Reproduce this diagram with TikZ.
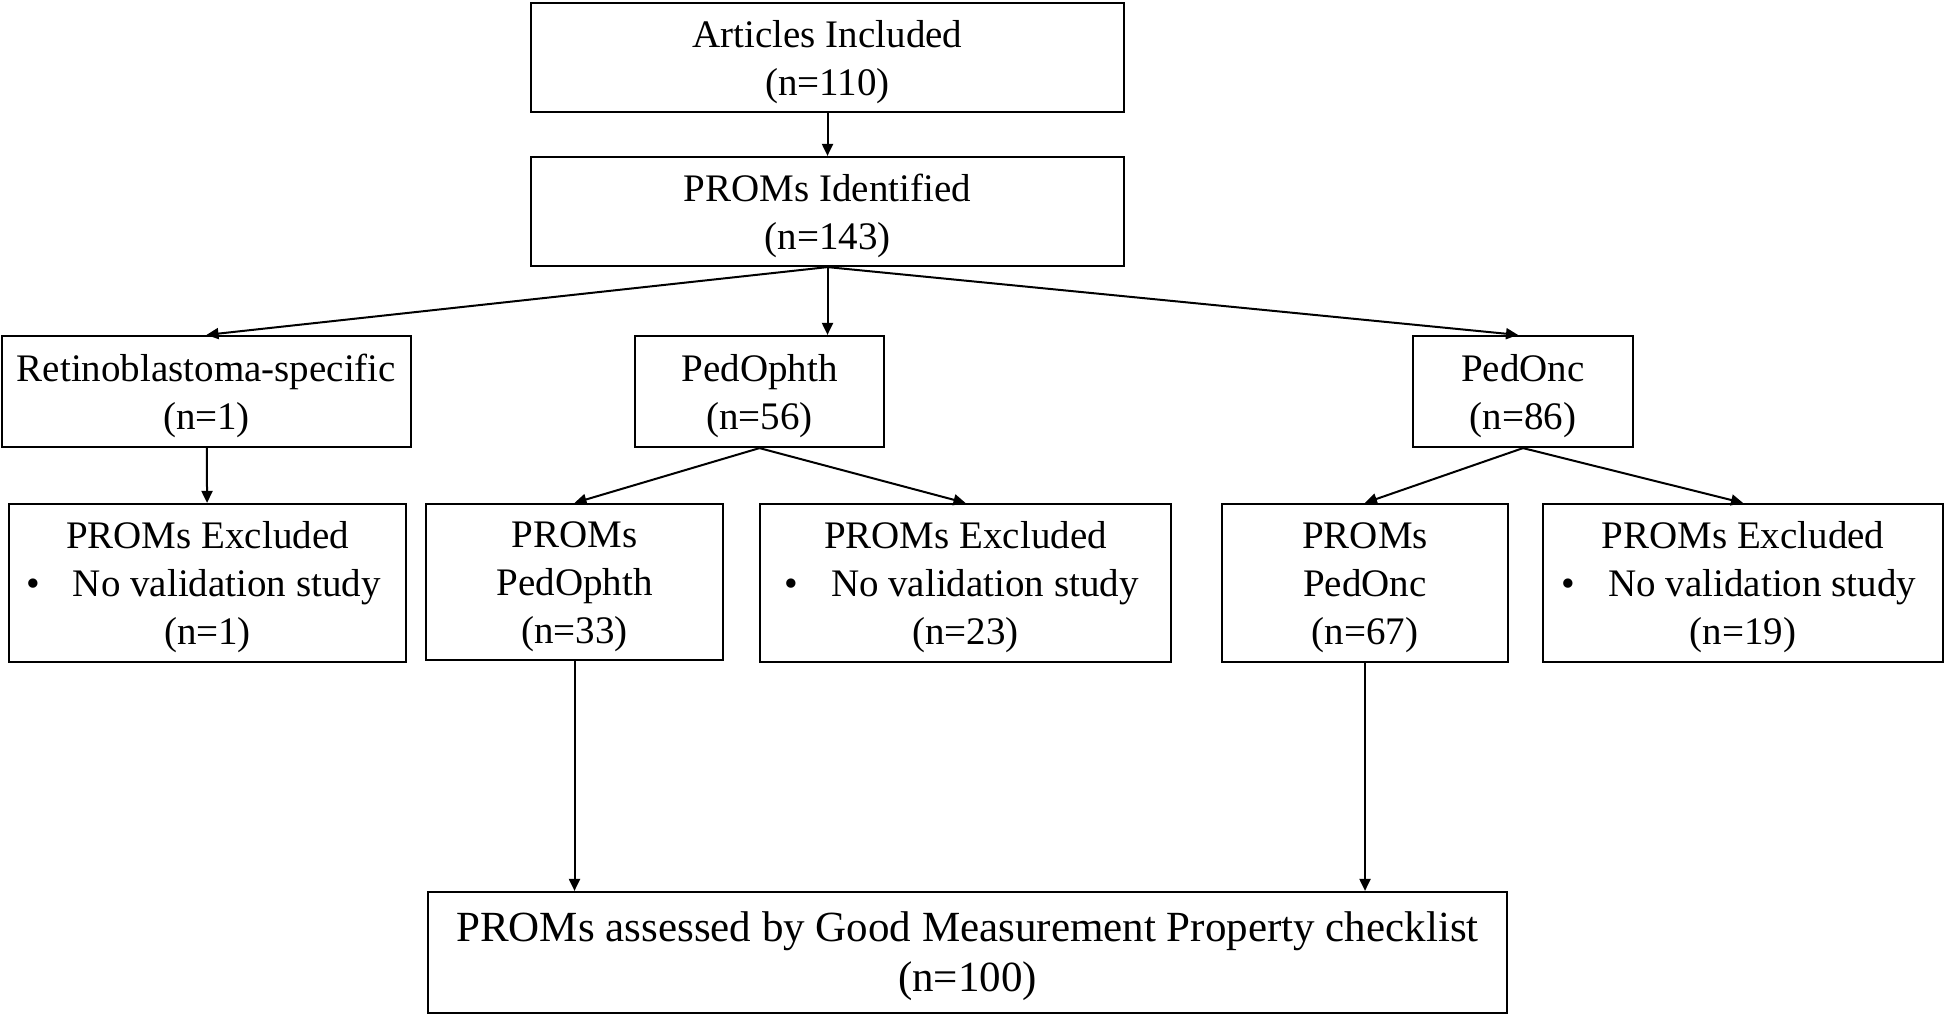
\documentclass[tikz,border=0pt]{standalone}
\usepackage{fontspec}
\setmainfont{Liberation Serif}
\usetikzlibrary{arrows.meta}
\newcommand\boxtext[1]{\raisebox{-4pt}[\height][\depth]{\begin{tabular}{@{}c@{}}#1\end{tabular}}}
\begin{document}
\begin{tikzpicture}[x=1pt,y=-1pt,
  box/.style={draw=black, line width=2.2pt, inner sep=0pt,
    font=\fontsize{39pt}{48pt}\selectfont},
  bigbox/.style={box, font=\fontsize{43pt}{50pt}\selectfont},
  conn/.style={line width=2pt, -{Triangle[length=12pt,width=11pt]}}]
\useasboundingbox[fill=white] (0,0) rectangle (1946,1017);
% row 1 and 2
\node[box, minimum width=593pt, minimum height=109pt] (A) at (827.5,57.5) {\boxtext{Articles Included\\(n=110)}};
\node[box, minimum width=593pt, minimum height=109pt] (B) at (827.5,211.5) {\boxtext{PROMs Identified\\(n=143)}};
% row 3
\node[box, minimum width=409pt, minimum height=111pt] (C) at (206.5,391.5) {\boxtext{Retinoblastoma-specific\\(n=1)}};
\node[box, minimum width=249pt, minimum height=111pt] (D) at (759.5,391.5) {\boxtext{PedOphth\\(n=56)}};
\node[box, minimum width=220pt, minimum height=111pt] (E) at (1523,391.5) {\boxtext{PedOnc\\(n=86)}};
% row 4
\node[box, minimum width=397pt, minimum height=158pt] (F) at (207.5,583) {\boxtext{PROMs Excluded\\\hspace*{-8pt}\textbullet\hspace{33pt}No validation study\\(n=1)}};
\node[box, minimum width=297pt, minimum height=156pt] (G) at (574.5,582) {\boxtext{PROMs\\PedOphth\\(n=33)}};
\node[box, minimum width=411pt, minimum height=158pt] (H) at (965.5,583) {\boxtext{PROMs Excluded\\\hspace*{-8pt}\textbullet\hspace{33pt}No validation study\\(n=23)}};
\node[box, minimum width=286pt, minimum height=158pt] (I) at (1365,583) {\boxtext{PROMs\\PedOnc\\(n=67)}};
\node[box, minimum width=400pt, minimum height=158pt] (J) at (1743,583) {\boxtext{PROMs Excluded\\\hspace*{-8pt}\textbullet\hspace{33pt}No validation study\\(n=19)}};
% row 5
\node[bigbox, minimum width=1079pt, minimum height=121pt] (K) at (967.5,952.5) {\boxtext{PROMs assessed by Good Measurement Property checklist\\(n=100)}};
% connectors
\draw[conn] (A) -- (B);
\draw[conn] (B.south) -- (C.north);
\draw[conn] (B.south) -- (B.south |- D.north);
\draw[conn] (B.south) -- ([xshift=-5pt]E.north);
\draw[conn] (C) -- (F);
\draw[conn] (D.south) -- (G.north);
\draw[conn] (D.south) -- (H.north);
\draw[conn] (E.south) -- (I.north);
\draw[conn] (E.south) -- (J.north);
\draw[conn] (G.south) -- (G.south |- K.north);
\draw[conn] (I.south) -- (I.south |- K.north);
\end{tikzpicture}
\end{document}
